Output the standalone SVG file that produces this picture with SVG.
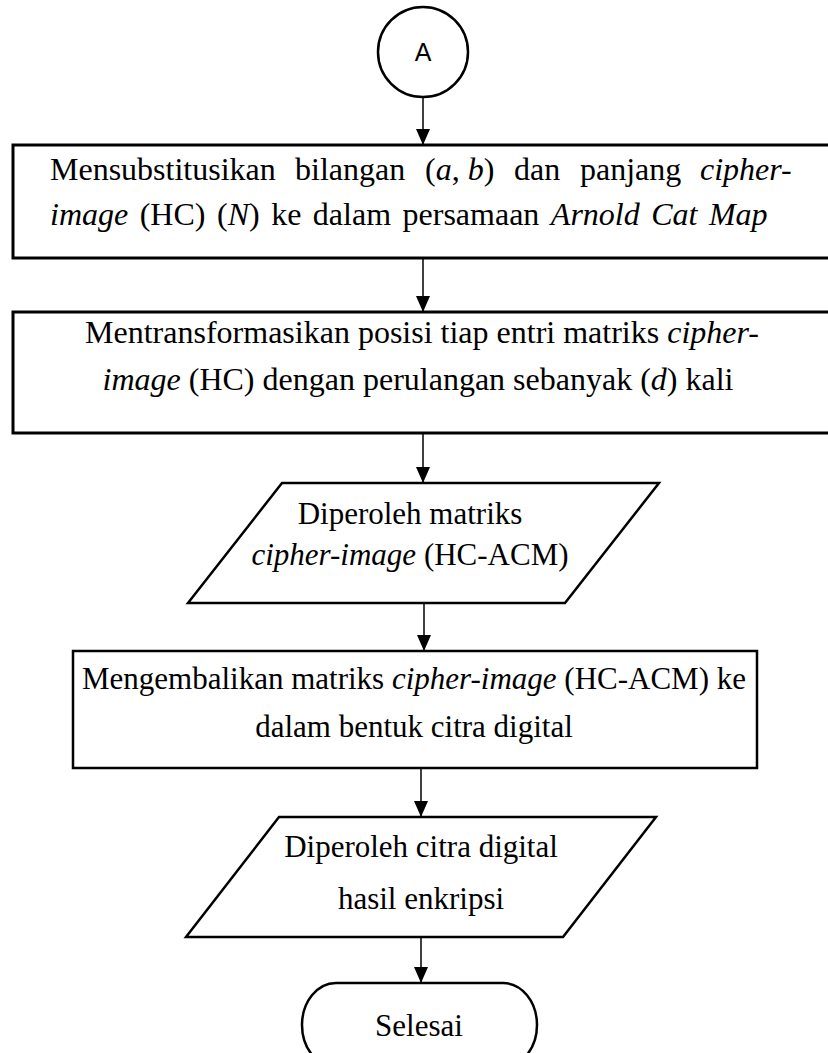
<svg xmlns="http://www.w3.org/2000/svg" width="828" height="1053" viewBox="0 0 828 1053">
  <style>
    .shape { fill: #ffffff; stroke: #000000; }
    .box { stroke-width: 3; }
    .thin { stroke-width: 2.5; }
    .link { stroke: #000000; stroke-width: 1.5; fill: none; marker-end: url(#arrow); }
    .t { font-family: "Liberation Serif", "Times New Roman", serif; font-size: 31px; fill: #000000; }
    .big { font-size: 32px; }
    .c { text-anchor: middle; }
    .i { font-style: italic; }
    .label { font-family: "Liberation Sans", Arial, sans-serif; font-size: 25px; text-anchor: middle; fill: #000000; }
  </style>
  <defs>
    <marker id="arrow" markerUnits="userSpaceOnUse" viewBox="0 0 16 14" refX="16" refY="7" markerWidth="16" markerHeight="14" orient="auto">
      <path d="M0,0 L16,7 L0,14 Z" fill="#000000"/>
    </marker>
  </defs>

  <g id="connectors">
    <line class="link" x1="423" y1="97" x2="423" y2="145"/>
    <line class="link" x1="423" y1="258" x2="423" y2="312"/>
    <line class="link" x1="423" y1="433" x2="423" y2="483"/>
    <line class="link" x1="424" y1="603" x2="424" y2="651"/>
    <line class="link" x1="421" y1="768" x2="421" y2="817"/>
    <line class="link" x1="421" y1="937" x2="421" y2="983"/>
  </g>

  <g id="node-a">
    <circle class="shape thin" cx="423" cy="52" r="45"/>
    <text class="label" x="423" y="61">A</text>
  </g>

  <g id="node-substitute">
    <rect class="shape box" x="13" y="145" width="830" height="113"/>
    <!-- justified first line: each word placed on its own -->
    <text class="t big" y="180"><tspan x="50">Mensubstitusikan</tspan><tspan x="295">bilangan</tspan><tspan x="425">(<tspan class="i">a</tspan>, <tspan class="i">b</tspan>)</tspan><tspan x="514">dan</tspan><tspan x="580">panjang</tspan><tspan x="700" class="i">cipher-</tspan></text>
    <text class="t big" x="50" y="225" word-spacing="3.5"><tspan class="i">image</tspan> (HC) (<tspan class="i">N</tspan>) ke dalam persamaan <tspan class="i">Arnold Cat Map</tspan></text>
  </g>

  <g id="node-transform">
    <rect class="shape box" x="13" y="312" width="830" height="121"/>
    <text class="t big c" x="422" y="343">Mentransformasikan posisi tiap entri matriks <tspan class="i">cipher-</tspan></text>
    <text class="t big c" x="418" y="390"><tspan class="i">image</tspan> (HC) dengan perulangan sebanyak (<tspan class="i">d</tspan>) kali</text>
  </g>

  <g id="node-matrix">
    <polygon class="shape thin" points="282,483 659,483 565,603 188,603"/>
    <text class="t c" x="410" y="524">Diperoleh matriks</text>
    <text class="t c" x="410" y="565"><tspan class="i">cipher-image</tspan> (HC-ACM)</text>
  </g>

  <g id="node-restore">
    <rect class="shape thin" x="73" y="651" width="684" height="117"/>
    <text class="t c" x="414" y="689">Mengembalikan matriks <tspan class="i">cipher-image</tspan> (HC-ACM) ke</text>
    <text class="t c" x="414" y="737">dalam bentuk citra digital</text>
  </g>

  <g id="node-image">
    <polygon class="shape thin" points="279,817 656,817 563,937 186,937"/>
    <text class="t c" x="421" y="857">Diperoleh citra digital</text>
    <text class="t c" x="421" y="909">hasil enkripsi</text>
  </g>

  <g id="node-end">
    <rect class="shape thin" x="302" y="983" width="235" height="84" rx="34" ry="42"/>
    <text class="t c" x="419" y="1036">Selesai</text>
  </g>
</svg>
